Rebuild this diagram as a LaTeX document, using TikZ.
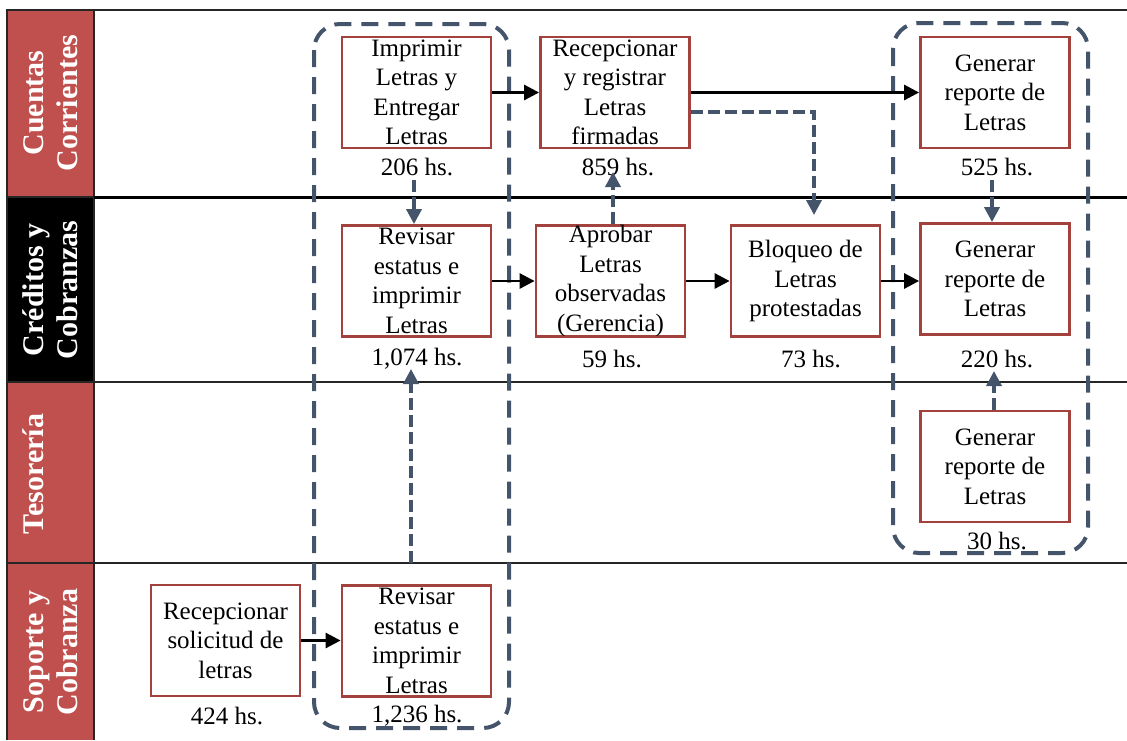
\documentclass[tikz,border=0pt]{standalone}
\usepackage{fontspec}
\setmainfont{Liberation Serif}
\usetikzlibrary{arrows.meta}
\definecolor{lanered}{HTML}{C0504D}
\definecolor{boxred}{HTML}{A3423C}
\definecolor{slate}{HTML}{44546A}
\tikzset{
  lanehead/.style={draw=black!85, line width=1.2pt},
  headtext/.style={rotate=90, text=white, align=center,
    font=\fontsize{30}{34}\selectfont\bfseries, inner sep=0pt},
  lanerule/.style={draw=black!85, line width=1.5pt},
  task/.style={draw=boxred, line width=2.8pt, fill=white, minimum width=149pt,
    minimum height=111pt, inner sep=0pt, align=center,
    font=\fontsize{25}{29.5}\selectfont},
  hours/.style={inner sep=0pt, font=\fontsize{25}{29.5}\selectfont},
  flow/.style={draw=black, line width=2.8pt, -{Triangle[length=15pt,width=15pt]}},
  link/.style={draw=slate, line width=3.5pt, dash pattern=on 12pt off 5pt,
    -{Triangle[length=15pt,width=15pt]}},
  group/.style={draw=slate, line width=4pt, dash pattern=on 17pt off 10pt,
    rounded corners=26pt}
}
\begin{document}
\begin{tikzpicture}[x=1pt, y=-1pt]
\useasboundingbox (0,0) rectangle (1127,740);

% lane header cells
\fill[lanered] (7,10) rectangle (94,197);
\fill[black] (7,197) rectangle (94,382);
\fill[lanered] (7,382) rectangle (94,563);
\fill[lanered] (7,563) rectangle (94,740);
\draw[lanehead] (7,740) -- (7,10) -- (94,10) -- (94,740);
\draw[lanehead] (7,197) -- (94,197);
\draw[lanehead] (7,382) -- (94,382);
\draw[lanehead] (7,563) -- (94,563);

\node[headtext] (h1) at (50.5,103) {Cuentas\\Corrientes};
\node[headtext] (h2) at (50.5,290) {Créditos y\\Cobranzas};
\node[headtext] (h3) at (33,474) {Tesorería};
\node[headtext] (h4) at (50.5,652) {Soporte y\\Cobranza};

% lane separators
\draw[lanerule] (94,10) -- (1127,10);
\draw[draw=black, line width=2.5pt] (94,197.5) -- (1127,197.5);
\draw[lanerule] (94,382) -- (1127,382);
\draw[lanerule] (94,563) -- (1127,563);

% dashed groupings
\draw[group] (314,24) rectangle (509,728);
\draw[group] (893,23) rectangle (1088,553);

% tasks
\node[task] (imp) at (416.5,92.5) {Imprimir\\Letras y\\Entregar\\Letras};
\node[task] (rec) at (615,92.5) {Recepcionar\\y registrar\\Letras\\firmadas};
\node[task] (gen1) at (995,92.5) {Generar\\reporte de\\Letras};
\node[task] (rev1) at (416.5,281) {Revisar\\estatus e\\imprimir\\Letras};
\node[task] (apr) at (610.5,281) {Aprobar\\Letras\\observadas\\(Gerencia)};
\node[task] (blo) at (805.5,281) {Bloqueo de\\Letras\\protestadas};
\node[task] (gen2) at (995,279) {Generar\\reporte de\\Letras};
\node[task] (gen3) at (995,466.5) {Generar\\reporte de\\Letras};
\node[task] (sol) at (225.5,640.5) {Recepcionar\\solicitud de\\letras};
\node[task] (rev2) at (416.5,641) {Revisar\\estatus e\\imprimir\\Letras};

% hours
\node[hours] (t1) at (417,167) {206 hs.};
\node[hours] (t2) at (618,167) {859 hs.};
\node[hours] (t3) at (997,167) {525 hs.};
\node[hours] (t4) at (417,359) {1,074 hs.};
\node[hours] (t5) at (612,359) {59 hs.};
\node[hours] (t6) at (811,359) {73 hs.};
\node[hours] (t7) at (997,359) {220 hs.};
\node[hours] (t8) at (997,541) {30 hs.};
\node[hours] (t9) at (227,716) {424 hs.};
\node[hours] (t10) at (417,716) {1,236 hs.};

% main flow
\draw[flow] (imp.east) -- (rec.west);
\draw[flow] (rec.east) -- (gen1.west |- rec.east);
\draw[flow] (rev1.east) -- (apr.west);
\draw[flow] (apr.east) -- (blo.west);
\draw[flow] (blo.east) -- (gen2.west |- blo.east);
\draw[flow] (sol.east) -- (rev2.west |- sol.east);

% supporting links
\draw[link] (414,180) -- (rev1.north -| 414,0);
\draw[link] (apr.north -| 613,0) -- (613,172);
\coordinate (bend) at (814,112);
\draw[link] (rec.east |- bend) -- (bend) -- (814,215);
\draw[link] (992,180) -- (gen2.north -| 992,0);
\draw[link] (gen3.north -| 994,0) -- (994,371);
\coordinate (up0) at (411,563);
\draw[link] (up0) -- (411,369);
\end{tikzpicture}
\end{document}
